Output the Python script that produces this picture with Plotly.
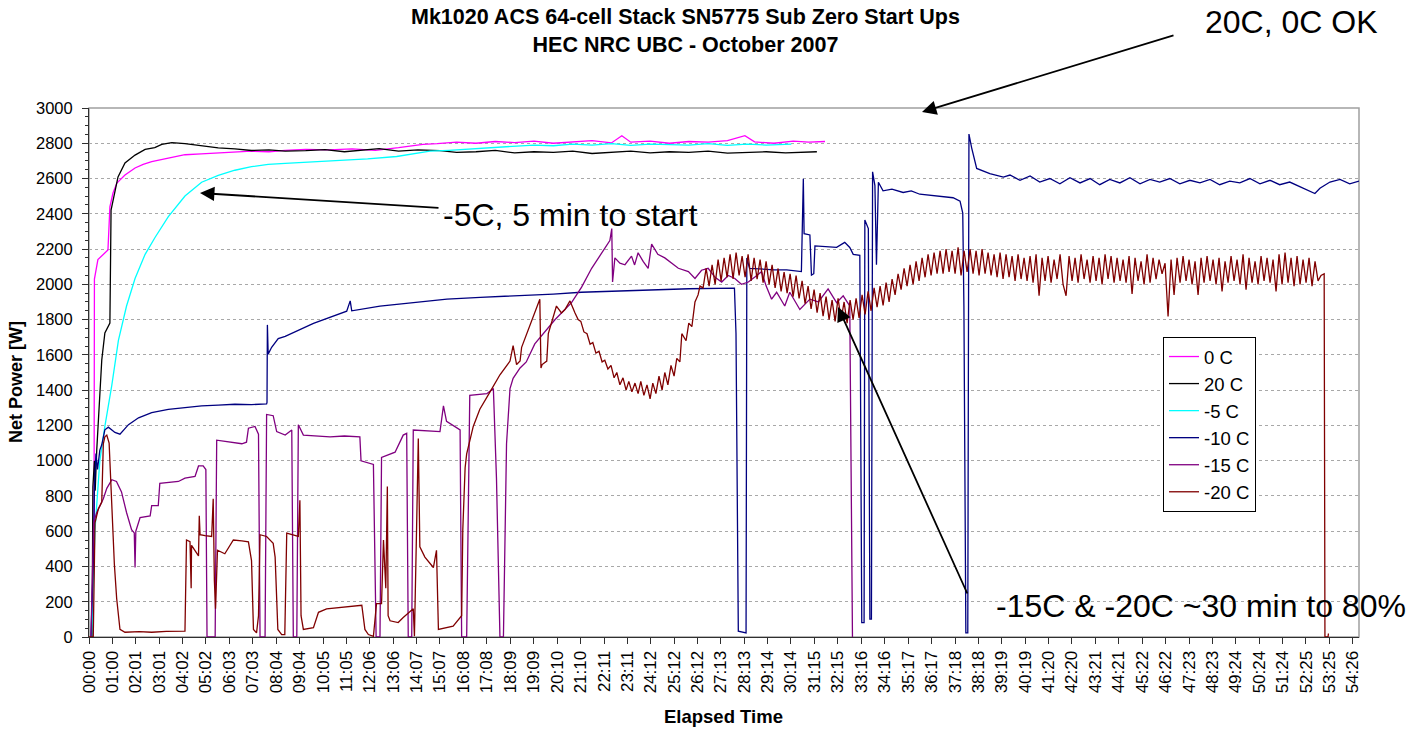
import plotly.graph_objects as go

FONT = "Liberation Sans, Arial, sans-serif"

# ---------------- tick labels (elapsed time, mm:ss) ----------------
x_tick_labels = ["00:00", "01:00", "02:01", "03:01", "04:02", "05:02", "06:03", "07:03", "08:04",
                 "09:04", "10:05", "11:05", "12:06", "13:06", "14:07", "15:07", "16:08", "17:08",
                 "18:09", "19:09", "20:10", "21:10", "22:11", "23:11", "24:12", "25:12", "26:12",
                 "27:13", "28:13", "29:14", "30:14", "31:15", "32:15", "33:16", "34:16", "35:17",
                 "36:17", "37:18", "38:18", "39:19", "40:19", "41:20", "42:20", "43:21", "44:21",
                 "45:22", "46:22", "47:23", "48:23", "49:24", "50:24", "51:24", "52:25", "53:25",
                 "54:26"]
x_max_s = 3282

# ---------------- series (time in seconds, net power in W) ----------------
t_0C = [10, 13, 14, 23, 49, 54, 62, 72, 93, 119, 140, 162, 205, 248, 290, 334, 380, 420, 465, 507,
        560, 620, 680, 740, 800, 863, 900, 950, 1000, 1050, 1100, 1150, 1200, 1250, 1300, 1350,
        1377, 1400, 1450, 1500, 1550, 1600, 1650, 1695, 1720, 1770, 1820, 1860, 1902]
p_0C = [430, 620, 2030, 2140, 2195, 2440, 2518, 2574, 2620, 2660, 2680, 2696, 2716, 2735, 2740,
        2745, 2750, 2755, 2752, 2760, 2765, 2762, 2768, 2760, 2775, 2794, 2798, 2806, 2800, 2810,
        2804, 2812, 2800, 2808, 2815, 2802, 2843, 2806, 2812, 2800, 2810, 2806, 2815, 2843, 2808,
        2800, 2812, 2806, 2810]

t_20C = [8, 10, 14, 16, 20, 25, 28, 33, 41, 49, 54, 57, 67, 75, 93, 119, 145, 170, 188, 214, 248,
         291, 334, 377, 420, 465, 507, 560, 610, 660, 700, 750, 800, 850, 907, 950, 1000, 1050,
         1100, 1150, 1200, 1250, 1300, 1350, 1400, 1450, 1500, 1550, 1600, 1650, 1700, 1750,
         1800, 1850, 1881]
p_20C = [0, 850, 1000, 830, 1060, 1280, 1344, 1571, 1724, 1758, 1780, 2421, 2535, 2609, 2688,
         2733, 2765, 2775, 2794, 2804, 2798, 2784, 2774, 2768, 2759, 2762, 2755, 2758, 2764, 2752,
         2760, 2770, 2756, 2762, 2758, 2748, 2752, 2760, 2745, 2752, 2748, 2756, 2742, 2750, 2755,
         2745, 2752, 2748, 2756, 2744, 2750, 2752, 2745, 2750, 2752]

t_m5C = [5, 7, 15.5, 28, 41, 59, 76, 97, 119, 145, 171, 205, 248, 291, 334, 377, 420, 463, 507,
         560, 610, 666, 720, 795, 840, 881, 930, 967, 1020, 1097, 1150, 1200, 1250, 1300, 1350,
         1400, 1450, 1500, 1550, 1600, 1650, 1700, 1750, 1815]
p_m5C = [0, 0, 608, 1000, 1194, 1428, 1682, 1877, 2033, 2170, 2267, 2384, 2501, 2579, 2618, 2647,
         2667, 2680, 2686, 2692, 2700, 2706, 2712, 2725, 2740, 2755, 2760, 2765, 2775, 2784, 2790,
         2786, 2795, 2790, 2798, 2788, 2795, 2792, 2790, 2798, 2788, 2795, 2790, 2795]

t_m10C = [5, 12, 14, 18, 22, 28, 33, 41, 50, 67, 80, 102, 128, 162, 205, 248, 291, 334, 377, 420,
          459, 460, 461, 463, 472, 489, 507, 580, 666, 675, 679, 752, 838, 925, 1011, 1114, 1200,
          1272, 1360, 1444, 1550, 1668, 1672, 1678, 1698, 1700, 1707, 1771, 1803, 1841, 1846,
          1848, 1863, 1867, 1873, 1876, 1932, 1953, 1966, 1975, 1992, 1997, 2003, 2005, 2014,
          2018, 2022, 2025, 2031, 2035, 2040, 2052, 2075, 2104, 2125, 2147, 2170, 2190, 2210,
          2233, 2251, 2258, 2261, 2266, 2271, 2274, 2281, 2294, 2328, 2363,
          2380, 2406, 2432, 2457, 2483, 2509, 2535, 2561, 2587, 2612, 2638, 2664, 2690, 2716,
          2742, 2767, 2793, 2819, 2845, 2871, 2897, 2922, 2948, 2974, 3000, 3026, 3052, 3077,
          3103, 3129, 3155, 3168, 3181, 3207, 3233, 3258, 3282]
p_m10C = [0, 480, 850, 1040, 950, 1060, 1090, 1175, 1190, 1160, 1150, 1204, 1243, 1272, 1291,
          1301, 1311, 1315, 1320, 1318, 1322, 1330, 1770, 1604, 1643, 1692, 1705, 1779, 1848,
          1906, 1850, 1877, 1896, 1916, 1926, 1935, 1945, 1955, 1962, 1970, 1975, 1978, 1721,
          33, 23, 2150, 2091, 2082, 2082, 2072, 2599, 2287, 2280, 2052, 2060, 2218, 2210, 2238,
          2209, 2170, 2165, 82, 82, 2365, 2316, 101, 101, 2638, 2560, 2111, 2579, 2530, 2540,
          2521, 2530, 2511, 2505, 2501, 2495, 2491, 2472, 2404, 1877, 23, 23, 2852, 2774, 2657,
          2628, 2608,
          2620, 2590, 2615, 2580, 2600, 2570, 2605, 2575, 2600, 2565, 2595, 2575, 2605, 2570,
          2595, 2580, 2600, 2570, 2590, 2575, 2595, 2565, 2585, 2575, 2600, 2570, 2590, 2565,
          2580, 2555, 2530, 2515, 2545, 2580, 2595, 2570, 2585]

t_m15C = [5, 8.6, 12, 20, 37, 46, 59, 71, 84, 97, 110, 117, 119, 121, 132, 158, 162, 179, 183,
          231, 248, 274, 283, 295, 302, 305, 326, 330, 360, 395, 407, 412, 429, 438, 442, 455,
          459, 476, 485, 507, 524, 528, 537, 541, 554, 590, 623, 660, 700, 703, 735, 742, 752,
          756, 791, 812, 821, 825, 834, 838, 870, 907, 916, 924, 959, 963, 976, 984, 1028, 1045,
          1053, 1062, 1071, 1079, 1088, 1096, 1114, 1130, 1152, 1204, 1247, 1273, 1299, 1333,
          1346, 1351, 1353, 1359, 1372, 1385, 1402, 1410, 1419, 1432, 1445, 1454, 1470, 1488,
          1505, 1523, 1549, 1566, 1583, 1600, 1618, 1635, 1652, 1669, 1686, 1704, 1720, 1738,
          1750, 1764, 1777, 1798, 1811, 1837, 1863, 1885, 1910, 1932, 1949, 1966, 1973]
p_m15C = [0, 433, 650, 706, 784, 843, 892, 882, 823, 706, 609, 590, 394, 600, 677, 687, 745, 745,
          872, 882, 901, 911, 970, 970, 950, 0, 0, 1116, 1106, 1096, 1105, 1184, 1194, 1150, 0,
          0, 1262, 1255, 1165, 1145, 1174, 0, 0, 1204, 1145, 1140, 1135, 1140, 1135, 999, 979,
          0, 0, 1018, 1048, 1145, 1155, 0, 0, 1174, 1170, 1165, 1311, 1223, 1174, 0, 0, 1370,
          1380, 1409, 901, 0, 0, 1096, 1409, 1467, 1526, 1560, 1662, 1799, 1896, 1984, 2091,
          2209, 2248, 2316, 2013, 2150, 2120, 2111, 2160, 2110, 2179, 2130, 2091, 2228, 2170,
          2150, 2120, 2091, 2072, 2033, 2080, 2091, 2040, 2013, 2050, 2033, 2000, 2013, 2040,
          2072, 1990, 1916, 1955, 1877, 1955, 1857, 1916, 1900, 1974, 1896, 1935, 1877, 0]

t_m20C = [0, 11, 15.5, 24, 33, 37, 41, 46, 52, 59, 65.5, 71.5, 80, 93, 130, 162, 200, 248, 252,
          261, 264, 265, 283, 285, 287, 300, 317, 321, 324, 327, 332, 351, 369, 373, 395, 412,
          420, 425, 433, 438, 442, 459, 476, 481, 488, 498, 506, 511, 541, 545, 548, 554, 580,
          593, 614, 640, 666, 705, 713, 722, 735, 743, 756, 761, 767, 771, 773, 778, 799, 812,
          838, 841, 847, 851, 855, 868, 890, 898, 903, 941, 963, 966, 972, 976, 993, 1010, 1036,
          1062, 1088, 1096, 1105, 1114, 1118, 1144, 1165, 1168, 1171, 1183, 1187, 1208, 1221,
          1230, 1243, 1256, 1264, 1271, 1279, 1287, 1295, 1302, 1310, 1318, 1326, 1333, 1341,
          1349, 1357, 1364, 1372, 1380, 1388, 1395, 1403, 1411, 1419, 1426, 1434, 1442, 1450,
          1457, 1465, 1473, 1481, 1488, 1496, 1504, 1512, 1519, 1527, 1532, 1543, 1550, 1558,
          1566, 1574, 1579]
p_m20C = [0, 0, 648, 726, 765, 1096, 1135, 1145, 1100, 706, 414, 218, 43, 27, 30, 27, 32, 33, 550,
          540, 277, 520, 460, 687, 580, 575, 570, 784, 320, 160, 492, 472, 531, 550, 545, 540, 433,
          43, 23, 120, 580, 570, 531, 453, 43, 14, 14, 589, 570, 775, 121, 43, 53, 140, 160, 165,
          170, 180, 43, 14, 4, 189, 189, 550, 277, 853, 121, 92, 82, 111, 160, 4, 667, 1126, 511,
          453, 394, 492, 43, 62, 121, 609, 960, 1038, 1194, 1292, 1389, 1487, 1565, 1652, 1545,
          1565, 1643, 1799, 1916, 1526, 1545, 1565, 1721, 1877, 1838, 1857, 1906, 1838, 1800,
          1790, 1730, 1720, 1660, 1670, 1610, 1620, 1560, 1570, 1520, 1540, 1470, 1500, 1430,
          1470, 1400, 1450, 1390, 1440, 1380, 1450, 1370, 1430, 1350, 1440, 1380, 1480, 1400,
          1500, 1430, 1540, 1480, 1580, 1560, 1720, 1680, 1780, 1760, 1900, 1940, 1990]

# -20 C logger readings after 26:12, one reading every m20_step_s seconds
m20_start_s = 1587
m20_step_s = 7.752
p_m20C_osc = [1980, 2090, 1990, 2110, 2000, 2140, 2020, 2150, 2040, 2170,
              2030, 2180, 2050, 2160, 2040, 2170, 2020, 2150, 2030, 2140,
              2010, 2130, 2000, 2110, 1980, 2090, 1960, 2070, 1950, 2060,
              1930, 2050, 1920, 2020, 1890, 1990, 1860, 1970, 1840, 1950,
              1820, 1930, 1800, 1910, 1790, 1920, 1800, 1900, 1780, 1910,
              1800, 1920, 1810, 1940, 1830, 1960, 1850, 1980, 1870, 1990,
              1880, 2010, 1900, 2030, 1940, 2060, 1970, 2090, 1990, 2110,
              2000, 2130, 2020, 2150, 2040, 2170, 2050, 2180, 2060, 2190,
              2060, 2200, 2070, 2190, 2060, 2210, 2050, 2190, 2070, 2200,
              2060, 2190, 2050, 2200, 2060, 2180, 2050, 2170, 2040, 2180,
              2030, 2170, 2040, 2160, 2020, 2170, 2030, 2150, 2020, 2160,
              2010, 2170, 1935, 2150, 2020, 2160, 2010, 2140, 2030, 2170,
              2000, 1935, 2160, 2020, 2150, 2010, 2170, 2030, 2140, 2010,
              2160, 2020, 2150, 2000, 2170, 2030, 2160, 2010, 2150, 2020,
              2140, 2010, 2160, 1945, 2150, 2020, 2130, 2000, 2170, 2010,
              2150, 2030, 2140, 2060, 2120, 1818, 2140, 1940, 2150, 2010,
              2160, 2020, 2140, 2000, 2130, 1940, 2150, 2010, 2160, 2020,
              2140, 2000, 2150, 1960, 2130, 2010, 2160, 2020, 2140, 2000,
              2170, 1970, 2150, 2010, 2130, 2000, 2160, 2020, 2150, 2010,
              2140, 1960, 2170, 2000, 2180, 2010, 2150, 1990, 2160, 2000,
              2140, 2010, 2150, 1990, 2130, 2020, 2050]
t_m20C_end = [3192, 3194, 3202, 3203]
p_m20C_end = [2060, 0, 0, 20]

series_names = ["0 C", "20 C", "-5 C", "-10 C", "-15 C", "-20 C"]
series_colors = ["#FF00FF", "#000000", "#00FFFF", "#000080", "#800080", "#800000"]

# ---------------- build ----------------
def mmss_to_s(label):
    m, s = label.split(":")
    return int(m) * 60 + int(s)

tick_vals = [mmss_to_s(l) for l in x_tick_labels]

t_m20_full = (t_m20C
              + [m20_start_s + i * m20_step_s for i in range(len(p_m20C_osc))]
              + t_m20C_end)
p_m20_full = p_m20C + p_m20C_osc + p_m20C_end

series_t = [t_0C, t_20C, t_m5C, t_m10C, t_m15C, t_m20_full]
series_p = [p_0C, p_20C, p_m5C, p_m10C, p_m15C, p_m20_full]

fig = go.Figure()
for name, col, t, p in zip(series_names, series_colors, series_t, series_p):
    fig.add_trace(go.Scatter(x=t, y=p, mode="lines", name=name,
                             line=dict(color=col, width=1.3)))

# plot area in pixels: x 89..1359, y 108..637
L, R, T, B = 89, 1359, 108, 637
def px(x):
    return (x - L) / (R - L)
def py(y):
    return (B - y) / (B - T)

fig.update_layout(
    width=1425, height=729,
    margin=dict(l=L, r=1425 - R, t=T, b=729 - B, pad=0),
    paper_bgcolor="white", plot_bgcolor="white",
    font=dict(family=FONT, color="black"),
    showlegend=True,
    legend=dict(x=px(1163), y=py(337), xanchor="left", yanchor="top",
                bgcolor="white", bordercolor="black", borderwidth=1,
                font=dict(size=18.5, family=FONT), tracegroupgap=0, itemwidth=30),
    xaxis=dict(range=[0, x_max_s], tickmode="array", tickvals=tick_vals, ticktext=x_tick_labels,
               tickangle=-90, ticks="outside", ticklen=6, tickcolor="#303030",
               showgrid=False, showline=True, linecolor="#303030", linewidth=1,
               zeroline=False, tickfont=dict(size=17, family=FONT)),
    yaxis=dict(range=[0, 3000], dtick=200, ticks="outside", ticklen=6, tickcolor="#303030",
               showgrid=True, gridcolor="#a8a8a8", griddash="dot", gridwidth=1,
               showline=True, linecolor="#303030", linewidth=1, zeroline=False,
               ticklabelstandoff=6,
               minor=dict(dtick=50, ticks="outside", ticklen=3, tickcolor="#303030",
                          showgrid=False),
               tickfont=dict(size=16.5, family=FONT)),
    shapes=[dict(type="rect", xref="paper", yref="paper", x0=0, x1=1, y0=0, y1=1,
                 line=dict(color="#a0a0a0", width=1.5), layer="below")],
)

ann = []
ann.append(dict(text="<b>Mk1020 ACS 64-cell Stack SN5775 Sub Zero Start Ups<br>HEC NRC UBC - October 2007</b>",
                x=px(685), y=py(31), xref="paper", yref="paper", showarrow=False,
                xanchor="center", yanchor="middle", font=dict(size=21.5, family=FONT)))
ann.append(dict(text="<b>Elapsed Time</b>", x=px(723), y=py(716), xref="paper", yref="paper",
                showarrow=False, xanchor="center", yanchor="middle", font=dict(size=18.5, family=FONT)))
ann.append(dict(text="<b>Net Power [W]</b>", x=px(16), y=py(382), xref="paper", yref="paper",
                showarrow=False, xanchor="center", yanchor="middle", textangle=-90,
                font=dict(size=18, family=FONT)))
ann.append(dict(text="20C, 0C OK", x=px(1203), y=py(22), xref="paper", yref="paper",
                showarrow=False, xanchor="left", yanchor="middle", font=dict(size=32, family=FONT)))
ann.append(dict(text="-5C, 5 min to start", x=px(441), y=py(215), xref="paper", yref="paper",
                showarrow=False, xanchor="left", yanchor="middle", font=dict(size=32, family=FONT)))
ann.append(dict(text="-15C & -20C ~30 min to 80%", x=px(994), y=py(606), xref="paper", yref="paper",
                showarrow=False, xanchor="left", yanchor="middle", font=dict(size=32, family=FONT)))
# arrows (head at x,y; tail offset in pixels)
for head, tail in [((922, 112), (1175, 35)), ((200, 193), (440, 208)), ((838, 307), (968, 595))]:
    ann.append(dict(text="", x=px(head[0]), y=py(head[1]), xref="paper", yref="paper",
                    ax=tail[0] - head[0], ay=tail[1] - head[1], showarrow=True,
                    arrowhead=2, arrowsize=1.6, arrowwidth=1.8, arrowcolor="black"))
fig.update_layout(annotations=ann)

fig.write_html("out.html")
